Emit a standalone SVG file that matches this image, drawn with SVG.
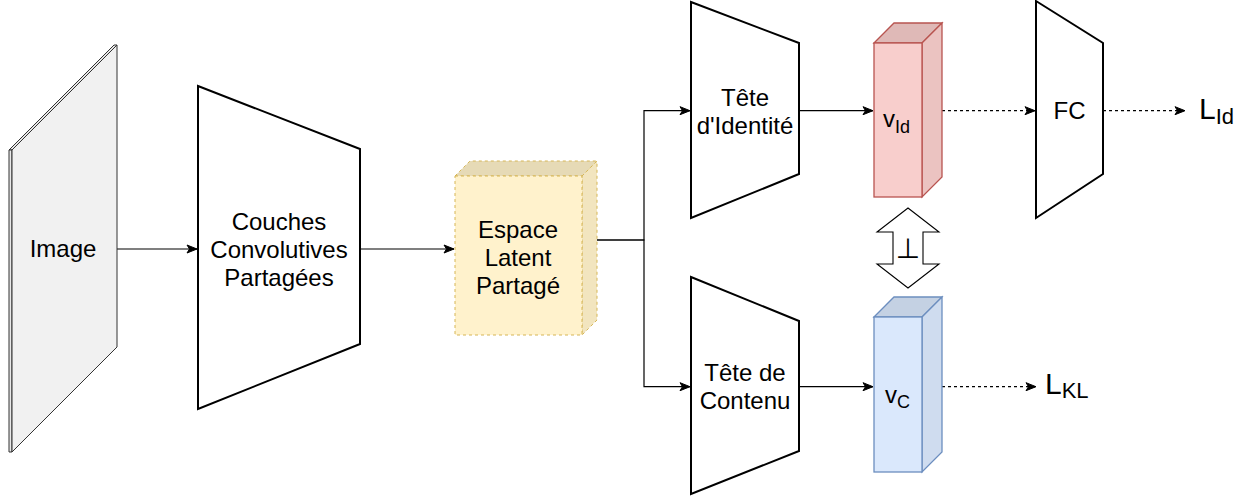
<svg xmlns="http://www.w3.org/2000/svg" width="1253" height="496" viewBox="0 0 1253 496">
  <defs>
    <marker id="arrow" markerUnits="userSpaceOnUse" markerWidth="12" markerHeight="10" refX="11" refY="5" orient="auto">
      <path d="M1,1 L11,5 L1,9 L3.5,5 Z" fill="#000" stroke="#000" stroke-width="1"/>
    </marker>
  </defs>
  <style>
    text { font-family: "Liberation Sans", Arial, Helvetica, sans-serif; fill: #000; }
    .lbl { font-size: 24px; text-anchor: middle; }
    .trap { fill: #fff; stroke: #000; stroke-width: 2; stroke-linejoin: miter; }
    .edge { fill: none; stroke: #000; stroke-width: 1.2; marker-end: url(#arrow); }
    .dash { stroke-dasharray: 3 3; }
    .plate { stroke: #333; stroke-width: 1; stroke-linejoin: round; }
    .y-front { fill: #fff2cc; stroke: #d6b656; stroke-dasharray: 3 3; }
    .y-top { fill: #e6dab6; stroke: #d6b656; stroke-dasharray: 3 3; }
    .y-side { fill: #f2e5bf; stroke: #d6b656; stroke-dasharray: 3 3; }
    .r-front { fill: #f8cecc; stroke: #b85450; stroke-width: 1.3; }
    .r-top { fill: #dfb9b7; stroke: #b85450; stroke-width: 1.3; }
    .r-side { fill: #ebc3c1; stroke: #b85450; stroke-width: 1.3; }
    .b-front { fill: #dae8fc; stroke: #6c8ebf; stroke-width: 1.3; }
    .b-top { fill: #c4d1e3; stroke: #6c8ebf; stroke-width: 1.3; }
    .b-side { fill: #cfdcef; stroke: #6c8ebf; stroke-width: 1.3; }
    .loss { font-size: 30px; }
    .sub { font-size: 22px; }
    .vec { font-size: 24px; }
    .vsub { font-size: 18px; }
  </style>

  <!-- connectors -->
  <g id="connectors">
    <path class="edge" d="M117,249 H197"/>
    <path class="edge" d="M360,249 H454"/>
    <path class="edge" d="M597,240 H644 V110.7 H690"/>
    <path class="edge" d="M597,240 H644 V386.7 H690"/>
    <path class="edge" d="M799,110.7 H873"/>
    <path class="edge" d="M799,386.7 H873"/>
    <path class="edge dash" d="M942,110.7 H1035"/>
    <path class="edge dash" d="M1103,110.7 H1185"/>
    <path class="edge dash" d="M942,386.7 H1036"/>
  </g>

  <!-- input image plate -->
  <g id="image">
    <polygon class="plate" fill="#e8e8e8" points="9,150 114,45 117,45 12,150"/>
    <polygon class="plate" fill="#e8e8e8" points="9,150 12,150 12,452 9,452"/>
    <polygon class="plate" fill="#f1f1f1" points="12,150 117,45 117,347 12,452"/>
    <text class="lbl" x="63" y="257">Image</text>
  </g>

  <!-- shared convolutional trunk -->
  <g id="couches">
    <polygon class="trap" points="198,86 360,149 360,344 198,409"/>
    <text class="lbl" x="279" y="229.5">Couches</text>
    <text class="lbl" x="279" y="257.5">Convolutives</text>
    <text class="lbl" x="279" y="285.5">Partagées</text>
  </g>

  <!-- shared latent space -->
  <g id="espace">
    <polygon class="y-top" points="455,176 470,161 597,161 582,176"/>
    <polygon class="y-side" points="582,176 597,161 597,320 582,335"/>
    <rect class="y-front" x="455" y="176" width="127" height="159"/>
    <text class="lbl" x="518" y="237.5">Espace</text>
    <text class="lbl" x="518" y="265.5">Latent</text>
    <text class="lbl" x="518" y="293.5">Partagé</text>
  </g>

  <!-- identity head -->
  <g id="tete-identite">
    <polygon class="trap" points="691,2 799,43 799,174 691,218"/>
    <text class="lbl" x="745" y="106">Tête</text>
    <text class="lbl" x="745" y="134">d'Identité</text>
  </g>

  <!-- content head -->
  <g id="tete-contenu">
    <polygon class="trap" points="691,277 799,321 799,451 691,494"/>
    <text class="lbl" x="745" y="381">Tête de</text>
    <text class="lbl" x="745" y="409">Contenu</text>
  </g>

  <!-- identity vector -->
  <g id="v-id">
    <polygon class="r-top" points="874,43 894,23 942,23 922,43"/>
    <polygon class="r-side" points="922,43 942,23 942,177 922,197"/>
    <rect class="r-front" x="874" y="43" width="48" height="154"/>
    <text x="883" y="127"><tspan class="vec">v</tspan><tspan class="vsub" dy="6">Id</tspan></text>
  </g>

  <!-- content vector -->
  <g id="v-c">
    <polygon class="b-top" points="874,317 894,297 942,297 922,317"/>
    <polygon class="b-side" points="922,317 942,297 942,452 922,472"/>
    <rect class="b-front" x="874" y="317" width="48" height="155"/>
    <text x="885" y="403"><tspan class="vec">v</tspan><tspan class="vsub" dy="4.5">C</tspan></text>
  </g>

  <!-- orthogonality constraint -->
  <g id="orthogonal">
    <polygon fill="#fff" stroke="#000" stroke-width="1.1" stroke-linejoin="miter"
      points="908,208 939,232 923,232 923,264 939,264 908,288 877,264 893,264 893,232 877,232"/>
    <text x="908" y="258" font-size="28" text-anchor="middle" style="font-family:'DejaVu Sans', sans-serif">⊥</text>
  </g>

  <!-- fully connected classifier -->
  <g id="fc">
    <polygon class="trap" points="1036,1 1103,43 1103,174 1036,218"/>
    <text class="lbl" x="1069.5" y="118.5">FC</text>
  </g>

  <!-- losses -->
  <g id="loss-id">
    <text x="1199" y="118.5"><tspan class="loss">L</tspan><tspan class="sub" dy="5.5">Id</tspan></text>
  </g>
  <g id="loss-kl">
    <text x="1045" y="393.5"><tspan class="loss">L</tspan><tspan class="sub" dy="4.5">KL</tspan></text>
  </g>
</svg>
